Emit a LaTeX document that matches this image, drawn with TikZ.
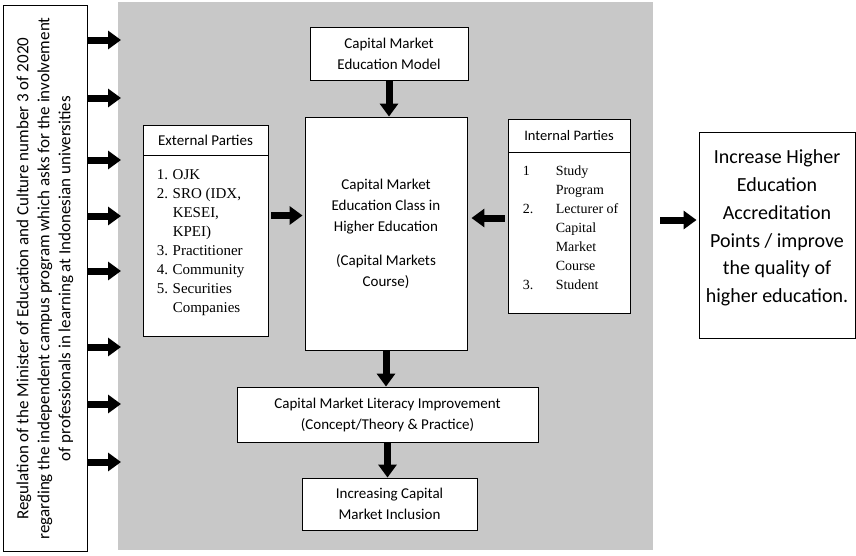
\documentclass[tikz,border=0pt]{standalone}
\usepackage{fontspec}
\setmainfont{Carlito}
\newfontfamily\listfont{Liberation Serif}
\usepackage{xcolor}
\usepackage{tikz}
\usetikzlibrary{arrows.meta, positioning}

\definecolor{panelgrey}{RGB}{200,200,200}
\newlength{\numindent}
\newcommand{\numitem}[2]{\makebox[\numindent][l]{#1}#2}
\newcommand{\numcont}[1]{\hspace*{\numindent}#1}

\begin{document}
\begin{tikzpicture}[
    x=1pt, y=-1pt,
    box/.style={draw, fill=white, line width=0.9pt, align=center, inner sep=0pt,
                font=\fontsize{15}{21}\selectfont},
    list/.style={align=left, inner sep=0pt},
    fat/.style={line width=7pt, -{Triangle[length=13pt, width=18pt]}},
]
\useasboundingbox (0, 0) rectangle (856, 555);

%% Fondo gris y regulacion a la izquierda
\node[fill=panelgrey, minimum width=535pt, minimum height=548pt, inner sep=0pt]
    at (385.5, 276) (panel) {};
\node[box, rotate=90, minimum width=546pt, minimum height=84pt,
      font=\fontsize{17}{21}\selectfont] at (45, 278.5) (reg)
    {Regulation of the Minister of Education and Culture number 3 of 2020\\
     regarding the independent campus program which asks for the involvement\\
     of professionals in learning at Indonesian universities};

\foreach \y [count=\i] in {40, 98, 160, 216, 271, 347, 404, 462} {
    \coordinate (in\i) at (121, \y);
    \draw[fat] (reg.south |- in\i) -- (in\i);
}

%% Cajas centrales
\node[box, minimum width=158pt, minimum height=53pt] at (389, 53.5) (model)
    {Capital Market\\Education Model};
\node[box, minimum width=162pt, minimum height=233pt] at (386, 233.5) (core)
    {Capital Market\\Education Class in\\Higher Education\\[13pt]
     (Capital Markets\\Course)};
\node[box, minimum width=301pt, minimum height=55pt] at (387.5, 414.5) (literacy)
    {Capital Market Literacy Improvement\\(Concept/Theory \& Practice)};
\node[box, minimum width=175pt, minimum height=52pt] at (389.5, 504) (inclusion)
    {Increasing Capital\\Market Inclusion};

%% Partes externas
\node[box, minimum width=125pt, minimum height=30pt] at (205.5, 140) (exthead)
    {External Parties};
\node[box, minimum width=125pt, minimum height=181pt] at (205.5, 245.5) (extbody) {};
\node[list, below right=15pt and 14pt of extbody.north west,
      font=\listfont\fontsize{15}{19}\selectfont, execute at begin node={\setlength{\numindent}{16pt}}]
    (extlist)
    {\numitem{1.}{OJK}\\
     \numitem{2.}{SRO (IDX,}\\
     \numcont{KESEI,}\\
     \numcont{KPEI)}\\
     \numitem{3.}{Practitioner}\\
     \numitem{4.}{Community}\\
     \numitem{5.}{Securities}\\
     \numcont{Companies}};

%% Partes internas
\node[box, minimum width=122pt, minimum height=33pt, font=\fontsize{14.5}{20}\selectfont]
    at (569, 135.5) (inthead) {Internal Parties};
\node[box, minimum width=122pt, minimum height=161pt] at (569, 232.5) (intbody) {};
\node[list, below right=14pt and 15pt of intbody.north west,
      font=\listfont\fontsize{14}{19}\selectfont, execute at begin node={\setlength{\numindent}{33pt}}]
    (intlist)
    {\numitem{1}{Study}\\
     \numcont{Program}\\
     \numitem{2.}{Lecturer of}\\
     \numcont{Capital}\\
     \numcont{Market}\\
     \numcont{Course}\\
     \numitem{3.}{Student}};

%% Resultado
\node[box, minimum width=156pt, minimum height=206pt] at (777, 235) (outcome) {};
\node[align=center, font=\fontsize{20}{27.8}\selectfont] at (777, 228) (outcometext)
    {Increase Higher\\Education\\Accreditation\\Points / improve\\the quality of\\higher education.};

%% Flechas
\draw[fat] (model.south) -- (model.south |- core.north);
\draw[fat, shorten <=3pt, shorten >=2pt] ([yshift=30pt]extbody.east) -- ([yshift=30pt]extbody.east -| core.west);
\draw[fat, shorten <=3pt, shorten >=4pt] ([yshift=14.5pt]intbody.west) -- ([yshift=14.5pt]intbody.west -| core.east);
\draw[fat] (core.south) -- (core.south |- literacy.north);
\draw[fat] (literacy.south) -- (literacy.south |- inclusion.north);
\draw[fat, shorten <=7pt, shorten >=2pt] ([yshift=56pt]panel.east) -- ([yshift=56pt]panel.east -| outcome.west);
\end{tikzpicture}
\end{document}
